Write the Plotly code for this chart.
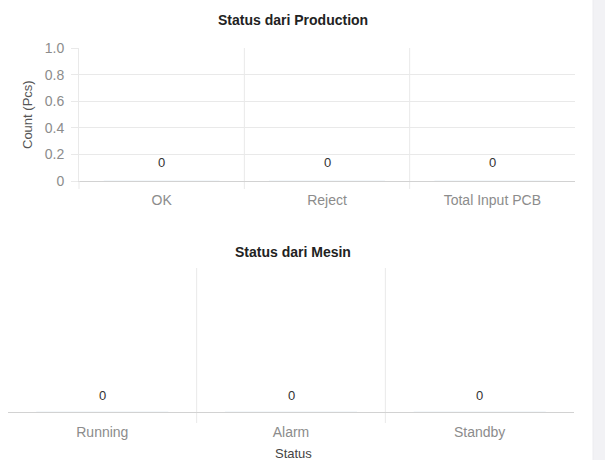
import plotly.graph_objects as go

# Production counts
prod_categories = ["OK", "Reject", "Total Input PCB"]
prod_counts = [0, 0, 0]

# Machine status counts
mesin_categories = ["Running", "Alarm", "Standby"]
mesin_counts = [0, 0, 0]

# Y axis ticks for the production panel
y_tick_values = [0, 0.2, 0.4, 0.6, 0.8, 1.0]
y_tick_labels = ["0", "0.2", "0.4", "0.6", "0.8", "1.0"]

W, H = 605, 460
FONT = "Liberation Sans, Arial, Helvetica, sans-serif"
GRID = "#e9e9e9"
AXIS = "#d2d2d2"
TICK_COLOR = "#8c8c8c"

# pixel positions of the two panels
TOP_Y0, TOP_Y1 = 181, 48      # baseline / top gridline of production panel
BOT_Y0, BOT_Y1 = 412, 268     # baseline / top of machine panel


def px(x):
    return x / W


def py(y):
    return 1 - y / H


fig = go.Figure()
fig.add_bar(x=prod_categories, y=prod_counts, xaxis="x", yaxis="y",
            marker_color="rgba(54,162,235,0.6)", showlegend=False, hoverinfo="skip")
fig.add_bar(x=mesin_categories, y=mesin_counts, xaxis="x2", yaxis="y2",
            marker_color="rgba(54,162,235,0.6)", showlegend=False, hoverinfo="skip")

annotations = []
# value labels above each bar
for cat, val in zip(prod_categories, prod_counts):
    annotations.append(dict(x=cat, y=val, xref="x", yref="y", text=str(val),
                            showarrow=False, yshift=18, yanchor="middle",
                            font=dict(family=FONT, size=13, color="#333333")))
for cat, val in zip(mesin_categories, mesin_counts):
    annotations.append(dict(x=cat, y=val, xref="x2", yref="y2", text=str(val),
                            showarrow=False, yshift=17, yanchor="middle",
                            font=dict(family=FONT, size=13, color="#333333")))

# panel titles and axis titles
annotations += [
    dict(x=px(293), y=py(20), xref="paper", yref="paper", text="<b>Status dari Production</b>",
         showarrow=False, xanchor="center", yanchor="middle",
         font=dict(family=FONT, size=14, color="#222222")),
    dict(x=px(293), y=py(252), xref="paper", yref="paper", text="<b>Status dari Mesin</b>",
         showarrow=False, xanchor="center", yanchor="middle",
         font=dict(family=FONT, size=14, color="#222222")),
    dict(x=px(27), y=py(115), xref="paper", yref="paper", text="Count (Pcs)",
         showarrow=False, textangle=-90, xanchor="center", yanchor="middle",
         font=dict(family=FONT, size=13, color="#555555")),
    dict(x=px(293), y=py(453), xref="paper", yref="paper", text="Status",
         showarrow=False, xanchor="center", yanchor="middle",
         font=dict(family=FONT, size=13, color="#444444")),
]

top_h = TOP_Y0 - TOP_Y1
bot_h = BOT_Y0 - BOT_Y1
shapes = []
# category boundary grid lines
for b in [0.5, 1.5]:
    shapes.append(dict(type="line", xref="x", yref="y domain", x0=b, x1=b,
                       y0=-8 / top_h, y1=1, line=dict(color=GRID, width=1), layer="below"))
    shapes.append(dict(type="line", xref="x2", yref="y2 domain", x0=b, x1=b,
                       y0=-11 / bot_h, y1=1, line=dict(color=GRID, width=1), layer="below"))
# y axis line tick below the baseline
shapes.append(dict(type="line", xref="x domain", yref="y domain", x0=0, x1=0,
                   y0=-8 / top_h, y1=0, line=dict(color=GRID, width=1)))
# scrollbar strip on the right edge
shapes.append(dict(type="rect", xref="paper", yref="paper", x0=px(593), x1=1, y0=0, y1=1,
                   fillcolor="#f2f2f5", line=dict(width=0), layer="below"))
shapes.append(dict(type="line", xref="paper", yref="paper", x0=px(593), x1=px(593), y0=0, y1=1,
                   line=dict(color="#ececf0", width=1), layer="below"))

fig.update_layout(
    width=W, height=H,
    margin=dict(l=0, r=0, t=0, b=0),
    paper_bgcolor="white", plot_bgcolor="rgba(0,0,0,0)",
    font=dict(family=FONT),
    bargap=0.3,
    xaxis=dict(domain=[px(79), px(575)], anchor="y", type="category",
               showgrid=False, showline=True, linecolor=AXIS, linewidth=1,
               ticks="", ticklabelstandoff=6, automargin=False,
               tickfont=dict(family=FONT, size=14, color=TICK_COLOR), fixedrange=True),
    yaxis=dict(domain=[py(TOP_Y0), py(TOP_Y1)], anchor="x", range=[0, 1],
               tickvals=y_tick_values, ticktext=y_tick_labels,
               showgrid=True, gridcolor=GRID, gridwidth=1, zeroline=False,
               showline=True, linecolor=GRID, linewidth=1, automargin=False,
               ticks="outside", ticklen=7, tickcolor=GRID, ticklabelstandoff=4,
               tickfont=dict(family=FONT, size=14, color=TICK_COLOR), fixedrange=True),
    xaxis2=dict(domain=[px(8), px(574)], anchor="y2", type="category",
                showgrid=False, showline=True, linecolor=AXIS, linewidth=1,
                ticks="", ticklabelstandoff=7, automargin=False,
                tickfont=dict(family=FONT, size=14, color=TICK_COLOR), fixedrange=True),
    yaxis2=dict(domain=[py(BOT_Y0), py(BOT_Y1)], anchor="x2", range=[0, 1], visible=False,
                fixedrange=True),
    annotations=annotations,
    shapes=shapes,
)

fig.write_html("out.html", config={"displayModeBar": False})
